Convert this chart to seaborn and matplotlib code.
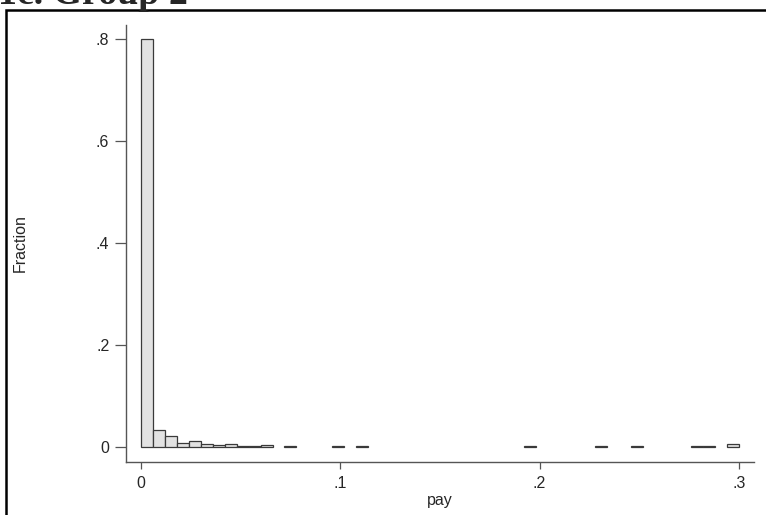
import numpy as np
import pandas as pd
import matplotlib
matplotlib.use("Agg")
import matplotlib.pyplot as plt
from matplotlib.patches import Rectangle
import seaborn as sns

# Histogram of pay: 50 bins of width 0.006 on [0, 0.3]; only non-empty bins listed
bin_width = 0.006
bin_index = [0, 1, 2, 3, 4, 5, 6, 7, 8, 9, 10, 12, 16, 18, 32, 38, 41, 46, 47, 49]
fraction = [0.800, 0.033, 0.021, 0.007, 0.012, 0.005, 0.003, 0.005, 0.002, 0.002,
            0.003, 0.002, 0.001, 0.001, 0.001, 0.002, 0.001, 0.002, 0.002, 0.006]

y_ticks = [0, 0.2, 0.4, 0.6, 0.8]
y_tick_labels = ["0", ".2", ".4", ".6", ".8"]
x_ticks = [0, 0.1, 0.2, 0.3]
x_tick_labels = ["0", ".1", ".2", ".3"]

df = pd.DataFrame({
    "pay": [(i + 0.5) * bin_width for i in bin_index],
    "fraction": fraction,
})

sns.set_style("white")
plt.rcParams["font.family"] = ["Liberation Sans", "DejaVu Sans"]

fig = plt.figure(figsize=(7.66, 5.15), dpi=100)
ax = fig.add_axes([126 / 766, 1 - 461.7 / 515, (754.3 - 126) / 766, (461.7 - 25) / 515])

sns.histplot(data=df, x="pay", weights="fraction", binwidth=bin_width,
             binrange=(0, 50 * bin_width), stat="count",
             facecolor="#e2e2e2", edgecolor="#3a3a3a", linewidth=0.9, alpha=1.0, ax=ax)

# empty bins are not drawn
for p in list(ax.patches):
    if p.get_height() <= 0:
        p.remove()

ax.set_xlim(-0.0075, 0.3077)
ax.set_ylim(-0.0294, 0.8275)

ax.set_yticks(y_ticks)
ax.set_yticklabels(y_tick_labels)
ax.set_xticks(x_ticks)
ax.set_xticklabels(x_tick_labels)

for side in ("top", "right"):
    ax.spines[side].set_visible(False)
for side in ("left", "bottom"):
    ax.spines[side].set_color("#555555")
    ax.spines[side].set_linewidth(1.0)

ax.tick_params(axis="y", length=8, width=0.9, color="#555555", labelsize=11.5, pad=4,
               left=True, direction="out")
ax.tick_params(axis="x", length=5, width=0.9, color="#555555", labelsize=11.5, pad=5,
               bottom=True, direction="out")

ax.set_xlabel("pay", fontsize=11.5, labelpad=2)
ax.set_ylabel("Fraction", fontsize=11.5, labelpad=49)

# outer panel frame (cropped at right and bottom)
fig.patches.append(Rectangle((6 / 766, -0.1), 1.2, 1 - 10 / 515 + 0.1,
                             transform=fig.transFigure, fill=False,
                             edgecolor="black", linewidth=1.8))

fig.text(-0.002, 1 - 4 / 515, "1c. Group 2", fontsize=27.3, fontweight="bold",
         fontfamily="Liberation Serif", va="baseline", ha="left")

fig.savefig("out.png", dpi=100)
